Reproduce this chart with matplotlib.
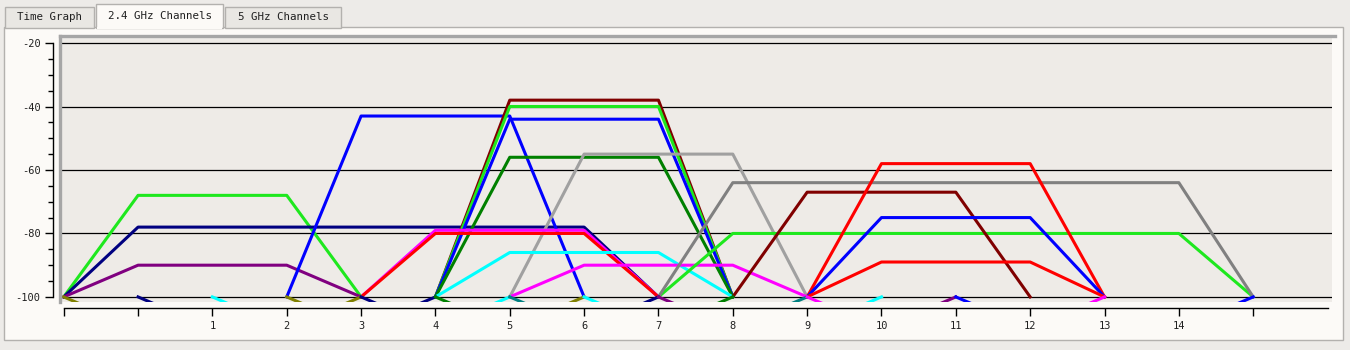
import matplotlib
matplotlib.use("Agg")
import matplotlib.pyplot as plt
from matplotlib.patches import Rectangle
from matplotlib.ticker import MultipleLocator

plt.rcParams['axes.unicode_minus'] = False

# networks seen on the 2.4 GHz band: centre channel, signal (dBm), half width of the top
channels = [1, 3, 1, 4, 6, 6, 6, 6, 7, 5, 5, 6, 7, 11, 11, 10, 11, 11, 11]
levels = [-68, -78, -90, -43, -38, -40, -44, -56, -55, -79, -80, -86, -90, -80, -64, -67, -58, -75, -89]
widths = [1, 3, 1, 1, 1, 1, 1, 1, 1, 1, 1, 1, 1, 3, 3, 1, 1, 1, 1]
colors = ['#1ee81e', '#000080', '#800080', '#0000ff', '#800000', '#1ee81e', '#0000ff',
          '#008000', '#a0a0a0', '#ff00ff', '#ff0000', '#00ffff', '#ff00ff', '#1ee81e',
          '#808080', '#800000', '#ff0000', '#0000ff', '#ff0000']

# weak networks below the floor (only their stubs show)
weak_channels = [1, 2, 3, 4, 5, 6, 7, 8, 9, 11, 13]
weak_levels = [-110, -110, -110, -110, -110, -110, -110, -110, -110, -110, -110]
weak_colors = ['#808000', '#000080', '#00ffff', '#808000', '#000080', '#008000',
               '#008080', '#00ffff', '#800080', '#ff00ff', '#0000ff']

x_ticks = list(range(-1, 16))
x_labels = ['', ''] + [str(c) for c in range(1, 15)] + ['']
y_ticks = [-100, -80, -60, -40, -20]

W, H = 1350, 350
fig = plt.figure(figsize=(13.5, 3.5), dpi=100, facecolor='#edebe8')

# panel and tabs
fig.patches.append(Rectangle((4 / W, 1 - 340 / H), 1339 / W, 313 / H, transform=fig.transFigure,
                             fc='#fcfaf7', ec='#b3b1ae', lw=1, zorder=-2))
tabs = [("Time Graph", 5, 94, 7, False), ("2.4 GHz Channels", 96, 223, 4, True),
        ("5 GHz Channels", 225, 341, 7, False)]
for name, x0, x1, y0, sel in tabs:
    fig.patches.append(Rectangle((x0 / W, 1 - 27.5 / H), (x1 - x0) / W, (27.5 - y0) / H,
                                 transform=fig.transFigure, zorder=-2,
                                 fc='#fcfaf7' if sel else '#e9e7e3', ec='#b3b1ae', lw=1))
    if sel:
        fig.patches.append(Rectangle(((x0 + 1) / W, 1 - 28.5 / H), (x1 - x0 - 2) / W, 2 / H,
                                     transform=fig.transFigure, fc='#fcfaf7', ec='none', zorder=-1))
    fig.text((x0 + x1) / 2 / W, 1 - (y0 + 28) / 2 / H, name, ha='center', va='center',
             fontsize=7.8, family='DejaVu Sans Mono', color='#202020')

ax = fig.add_axes([60 / W, 1 - 302 / H, 1272 / W, 265 / H], facecolor='#eeebe7')
ax.set_xlim(-1.05, 16.06)
ax.set_ylim(-101.6, -18.1)

for c, lv, w, col in zip(channels, levels, widths, colors):
    ax.plot([c - w - 1, c - w, c + w, c + w + 1], [-100, lv, lv, -100], color=col, lw=2.2)
for c, lv, col in zip(weak_channels, weak_levels, weak_colors):
    ax.plot([c - 2, c - 1, c + 1, c + 2], [-100, lv, lv, -100], color=col, lw=2.2)

ax.set_yticks(y_ticks)
ax.yaxis.set_minor_locator(MultipleLocator(5))
ax.yaxis.grid(True, color='black', lw=0.9)
ax.set_axisbelow(True)
ax.set_xticks(x_ticks)
ax.set_xticklabels(x_labels)

for s in ['top', 'right']:
    ax.spines[s].set_visible(False)
ax.spines['left'].set_position(('outward', 5))
ax.spines['left'].set_bounds(-100, -20)
ax.spines['bottom'].set_position(('outward', 4))
ax.spines['bottom'].set_bounds(-1, 16)
for s in ['left', 'bottom']:
    ax.spines[s].set_linewidth(1)

# grey frame on the top and left of the plot area
ax.plot([0, 0], [0, 1.003], transform=ax.transAxes, color='#a6a6a6', lw=2.4, clip_on=False)
ax.plot([0, 1.002], [1.003, 1.003], transform=ax.transAxes, color='#a6a6a6', lw=2.4, clip_on=False)

ax.tick_params(axis='y', which='major', length=6, width=1, pad=3, labelsize=7.5)
ax.tick_params(axis='y', which='minor', length=3.5, width=1)
ax.tick_params(axis='x', length=5.5, width=1, pad=4, labelsize=7.5)
for lab in ax.get_xticklabels() + ax.get_yticklabels():
    lab.set_family('DejaVu Sans Mono')
    lab.set_color('#202020')

fig.savefig('out.png', dpi=100, facecolor=fig.get_facecolor())
